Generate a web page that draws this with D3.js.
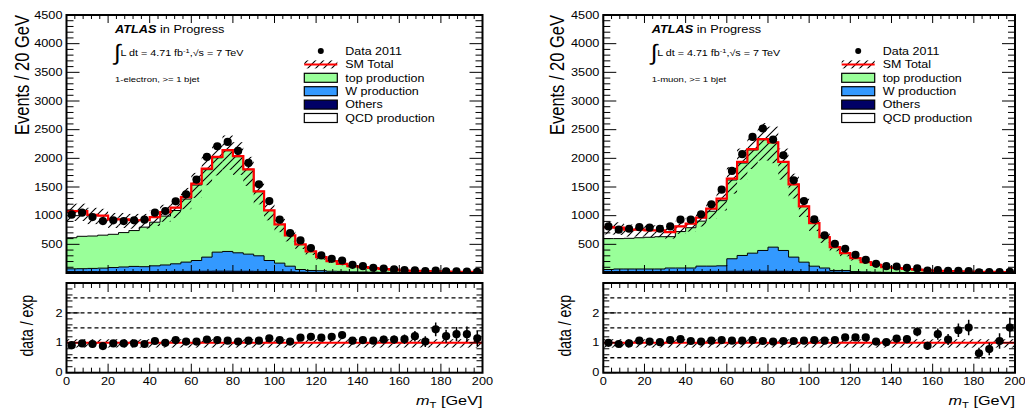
<!DOCTYPE html>
<html><head><meta charset="utf-8">
<script src="https://cdn.jsdelivr.net/npm/d3@7"></script>
<style>
body{margin:0;background:#fff}
svg{display:block}
text{font-family:"Liberation Sans",Arial,Helvetica,sans-serif;fill:#000}
</style>
</head><body>
<svg id="chart" width="1025" height="410"></svg>
<script>
// ---------------- data (bins of 5 GeV, 0..200 GeV) ----------------
const binEdges = d3.range(0, 205, 5);
const xTickLabels = d3.range(0, 201, 20);
const yTickLabels = d3.range(500, 4501, 500);
const ratioTickLabels = [0, 1, 2];
const ratioGuides = [0.5, 1.5, 2, 2.5];

// electron channel
const elData   = [1017,1052,976,906,918,906,918,930,1052,1080,1250,1372,1629,2024,2211,2287,2129,1920,1547,1255,930,696,568,434,306,248,218,143,119,91,78,64,49,46,33,41,30,28,26,21];
const elOthers = [25,25,25,25,25,25,25,25,25,25,28,28,30,30,32,32,30,30,28,25,22,20,15,12,10,8,8,6,5,5,4,4,3,3,3,2,2,2,1,1];
const elW      = [48,50,55,60,70,80,90,85,100,115,132,162,188,247,332,344,322,299,272,193,150,99,46,32,30,22,20,14,13,10,8,6,5,4,3,3,2,2,2,2];
const elTop    = [542,565,565,575,580,600,625,690,761,853,930,1100,1316,1525,1645,1756,1677,1474,1120,871,673,535,435,331,236,176,132,99,84,72,58,48,36,31,26,23,21,18,17,15];
const elQCD    = [465,440,370,340,260,230,180,120,90,70,50,35,25,20,15,10,8,6,5,4,3,2,2,1,1,1,0,0,0,0,0,0,0,0,0,0,0,0,0,0];
const elRatio  = [0.92,0.98,0.96,0.89,0.98,0.98,0.98,0.96,1.06,1.0,1.09,1.04,1.04,1.11,1.09,1.07,1.04,1.07,1.07,1.15,1.09,1.04,1.17,1.2,1.17,1.2,1.26,1.07,1.09,1.07,1.11,1.11,1.12,1.22,1.04,1.45,1.22,1.29,1.29,1.15];

// muon channel
const muData   = [813,755,772,800,790,772,813,930,930,1023,1197,1454,1780,2072,2374,2520,2328,2054,1617,1255,935,656,510,423,318,230,160,119,113,91,79,41,49,36,38,35,13,14,17,21];
const muOthers = [25,25,25,25,25,25,25,25,25,25,28,28,30,30,32,32,30,30,28,25,22,20,15,12,10,8,8,6,5,5,4,4,3,3,3,2,2,1,1,1];
const muW      = [36,45,45,45,45,45,62,62,62,95,92,97,218,276,314,361,421,363,249,164,97,67,29,32,15,12,7,6,5,3,2,1,1,1,0,1,0,1,1,1];
const muTop    = [539,530,535,545,553,563,547,636,703,785,957,1137,1374,1612,1799,1931,1821,1539,1265,970,749,537,405,301,233,168,128,90,77,62,52,41,34,28,24,20,18,16,14,12];
const muQCD    = [200,190,150,140,120,110,80,90,70,60,45,35,25,20,15,10,8,6,5,4,3,2,2,1,1,1,0,0,0,0,0,0,0,0,0,0,0,0,0,0];
const muRatio  = [1.0,0.96,0.98,1.07,1.04,1.02,1.09,1.12,1.06,1.04,1.07,1.09,1.07,1.07,1.09,1.06,1.04,1.06,1.06,1.07,1.09,1.07,1.09,1.18,1.18,1.18,1.04,1.02,1.14,1.12,1.37,0.9,1.29,1.11,1.42,1.51,0.65,0.79,1.06,1.51];

// systematic band (fractional)
const bandUp = 0.12, bandDown = 0.16;

const legendLabels = ["Data 2011","SM Total","top production","W production","Others","QCD production"];
const colors = {top:"#99ff99", w:"#3399ff", others:"#000066", qcd:"#ffffff", total:"#ff0000"};

// ---------------- drawing ----------------
const SX = 1.25; // horizontal stretch of glyphs in the reference
const svg = d3.select("#chart");
const defs = svg.append("defs");
const pat = defs.append("pattern").attr("id","hatch").attr("patternUnits","userSpaceOnUse")
  .attr("width",8).attr("height",8);
pat.append("path").attr("d","M0,8 L8,0 M-1,1 L1,-1 M7,9 L9,7").attr("stroke","#000").attr("stroke-width",1.1);

function txt(g, x, y, s, o={}) {
  const t = g.append("text")
    .attr("transform", `translate(${x},${y}) scale(${SX},1)` + (o.rot ? " rotate(-90)" : ""))
    .attr("font-size", o.size || 10)
    .attr("text-anchor", o.anchor || "start");
  if (o.weight) t.attr("font-weight", o.weight);
  if (o.style) t.attr("font-style", o.style);
  t.text(s);
  return t;
}

function drawPanel(cfg) {
  const g = svg.append("g");
  const n = 40;
  const x = d3.scaleLinear().domain([0,200]).range([cfg.x0, cfg.x1]);
  const y = d3.scaleLinear().domain([0,4500]).range([cfg.mBot, cfg.mTop]);
  const yr = d3.scaleLinear().domain([0,3]).range([cfg.rBot, cfg.rTop]);

  const clipM = "clipM"+cfg.id, clipR = "clipR"+cfg.id;
  defs.append("clipPath").attr("id",clipM).append("rect")
    .attr("x",cfg.x0).attr("y",cfg.mTop).attr("width",cfg.x1-cfg.x0).attr("height",cfg.mBot-cfg.mTop);
  defs.append("clipPath").attr("id",clipR).append("rect")
    .attr("x",cfg.x0).attr("y",cfg.rTop).attr("width",cfg.x1-cfg.x0).attr("height",cfg.rBot-cfg.rTop);

  const c1 = cfg.others;
  const c2 = c1.map((v,i)=>v+cfg.w[i]);
  const c3 = c2.map((v,i)=>v+cfg.top[i]);
  const c4 = c3.map((v,i)=>v+cfg.qcd[i]);
  const pts = vals => vals.map((v,i)=>[binEdges[i], v]).concat([[200, vals[n-1]]]);
  const area = d3.area().x(d=>x(d[0])).y0(y(0)).y1(d=>y(d[1])).curve(d3.curveStepAfter);
  const line = d3.line().x(d=>x(d[0])).y(d=>y(d[1])).curve(d3.curveStepAfter);

  const mg = g.append("g").attr("clip-path",`url(#${clipM})`);
  [[c4,colors.qcd],[c3,colors.top],[c2,colors.w],[c1,colors.others]].forEach(([vals,fill])=>{
    mg.append("path").attr("d",area(pts(vals))).attr("fill",fill).attr("stroke","none");
    mg.append("path").attr("d",line(pts(vals))).attr("fill","none").attr("stroke","#000").attr("stroke-width",1);
  });
  // band
  mg.selectAll(".band").data(c4).enter().append("rect")
    .attr("x",(d,i)=>x(binEdges[i])).attr("width",(d,i)=>x(binEdges[i+1])-x(binEdges[i]))
    .attr("y",d=>y(d*(1+bandUp))).attr("height",d=>y(d*(1-bandDown))-y(d*(1+bandUp)))
    .attr("fill","url(#hatch)");
  // total line
  mg.append("path").attr("d",line(pts(c4))).attr("fill","none").attr("stroke",colors.total).attr("stroke-width",2.2);
  // data
  const cx = i => x((binEdges[i]+binEdges[i+1])/2);
  cfg.data.forEach((d,i)=>{
    const e = Math.sqrt(d);
    mg.append("line").attr("x1",cx(i)).attr("x2",cx(i)).attr("y1",y(d-e)).attr("y2",y(d+e)).attr("stroke","#000").attr("stroke-width",1.5);
    mg.append("circle").attr("cx",cx(i)).attr("cy",y(d)).attr("r",4.1).attr("fill","#000");
  });

  // ratio panel
  const rg = g.append("g").attr("clip-path",`url(#${clipR})`);
  ratioGuides.forEach(v=>{
    rg.append("line").attr("x1",cfg.x0).attr("x2",cfg.x1).attr("y1",yr(v)).attr("y2",yr(v))
      .attr("stroke","#000").attr("stroke-width",1.3).attr("stroke-dasharray","4,3");
  });
  rg.selectAll(".rband").data(c4).enter().append("rect")
    .attr("x",(d,i)=>x(binEdges[i])).attr("width",(d,i)=>x(binEdges[i+1])-x(binEdges[i]))
    .attr("y",yr(1+bandUp)).attr("height",yr(1-bandDown)-yr(1+bandUp))
    .attr("fill","url(#hatch)");
  rg.append("line").attr("x1",cfg.x0).attr("x2",cfg.x1).attr("y1",yr(1)).attr("y2",yr(1))
    .attr("stroke",colors.total).attr("stroke-width",2);
  cfg.ratio.forEach((r,i)=>{
    const e = Math.sqrt(cfg.data[i])/c4[i];
    rg.append("line").attr("x1",cx(i)).attr("x2",cx(i)).attr("y1",yr(r-e)).attr("y2",yr(r+e)).attr("stroke","#000").attr("stroke-width",1.5);
    rg.append("circle").attr("cx",cx(i)).attr("cy",yr(r)).attr("r",4.1).attr("fill","#000");
  });

  // ticks
  const tk = g.append("g").attr("stroke","#000").attr("stroke-width",1);
  function hT(vals, scale, xa, len) { vals.forEach(v=>tk.append("line").attr("x1",xa).attr("x2",xa+len).attr("y1",scale(v)).attr("y2",scale(v))); }
  function vT(vals, ya, len) { vals.forEach(v=>tk.append("line").attr("y1",ya).attr("y2",ya+len).attr("x1",x(v)).attr("x2",x(v))); }
  const yMinor = d3.range(0,4501,100).filter(v=>v%500!==0);
  const yMajor = d3.range(0,4501,500);
  hT(yMajor, y, cfg.x0, 13); hT(yMinor, y, cfg.x0, 7);
  hT(yMajor, y, cfg.x1, -13); hT(yMinor, y, cfg.x1, -7);
  const xMajor = d3.range(0,201,20), xMinor = d3.range(0,201,4).filter(v=>v%20!==0);
  vT(xMajor, cfg.mTop, 8); vT(xMinor, cfg.mTop, 4);
  vT(xMajor, cfg.mBot, -8); vT(xMinor, cfg.mBot, -4);
  const rMajor = [0,1,2,3], rMinor = d3.range(0,3.001,0.2).filter(v=>Math.abs(v-Math.round(v))>1e-6);
  hT(rMajor, yr, cfg.x0, 13); hT(rMinor, yr, cfg.x0, 6);
  hT(rMajor, yr, cfg.x1, -13); hT(rMinor, yr, cfg.x1, -6);
  vT(xMajor, cfg.rTop, 9); vT(xMinor, cfg.rTop, 5);
  vT(xMajor, cfg.rBot, -9); vT(xMinor, cfg.rBot, -5);

  // frames
  g.append("rect").attr("x",cfg.x0).attr("y",cfg.mTop).attr("width",cfg.x1-cfg.x0).attr("height",cfg.mBot-cfg.mTop)
    .attr("fill","none").attr("stroke","#000").attr("stroke-width",2);
  g.append("rect").attr("x",cfg.x0).attr("y",cfg.rTop).attr("width",cfg.x1-cfg.x0).attr("height",cfg.rBot-cfg.rTop)
    .attr("fill","none").attr("stroke","#000").attr("stroke-width",2);

  // tick labels
  yTickLabels.forEach(v=>txt(g, cfg.x0-4, y(v)+3.6, String(v), {size:10.2, anchor:"end"}));
  ratioTickLabels.forEach(v=>txt(g, cfg.x0-4, yr(v)+3.6, String(v), {size:10.2, anchor:"end"}));
  xTickLabels.forEach(v=>txt(g, x(v), cfg.rBot+12, String(v), {size:10.2, anchor:"middle"}));

  // axis titles
  txt(g, cfg.yTitleX, cfg.mTop, "Events / 20 GeV", {size:16.5, anchor:"end", rot:true});
  txt(g, cfg.rTitleX, cfg.rTop+12, "data / exp", {size:14, anchor:"end", rot:true});
  const xt = g.append("text").attr("transform",`translate(${cfg.x1},${cfg.rBot+32}) scale(${SX},1)`)
    .attr("font-size",13).attr("text-anchor","end");
  xt.append("tspan").attr("font-style","italic").text("m");
  xt.append("tspan").attr("font-size",9).attr("dy",3).text("T");
  xt.append("tspan").attr("dy",-3).text(" [GeV]");

  // ATLAS label
  const at = g.append("text").attr("transform",`translate(${cfg.labX},33.3) scale(${SX},1)`).attr("font-size",10.2);
  at.append("tspan").attr("font-weight","bold").attr("font-style","italic").text("ATLAS");
  at.append("tspan").text(" in Progress");
  g.append("text").attr("transform",`translate(${cfg.labX-1},60) scale(1.1,1)`).attr("font-size",22).text("∫");
  const lumi = g.append("text").attr("transform",`translate(${cfg.labX+5.5},56) scale(${SX},1)`).attr("font-size",8.6);
  lumi.append("tspan").text("L dt = 4.71 fb");
  lumi.append("tspan").attr("font-size",6).attr("dy",-3.5).text("-1");
  lumi.append("tspan").attr("dy",3.5).text(",√s = 7 TeV");
  txt(g, cfg.labX, 81.7, cfg.channel, {size:7.6});

  // legend
  const lg = g.append("g");
  const bx0 = cfg.legX, bw = 33, rowY = i => 51 + i*13.4;
  lg.append("circle").attr("cx",bx0+bw/2).attr("cy",rowY(0)).attr("r",3).attr("fill","#000");
  lg.append("rect").attr("x",bx0).attr("y",rowY(1)-4).attr("width",bw).attr("height",8).attr("fill","url(#hatch)");
  lg.append("line").attr("x1",bx0).attr("x2",bx0+bw).attr("y1",rowY(1)).attr("y2",rowY(1)).attr("stroke",colors.total).attr("stroke-width",2);
  [colors.top, colors.w, colors.others, colors.qcd].forEach((c,k)=>{
    lg.append("rect").attr("x",bx0).attr("y",rowY(k+2)-4.5).attr("width",bw).attr("height",9)
      .attr("fill",c).attr("stroke","#000").attr("stroke-width",1.2);
  });
  legendLabels.forEach((s,i)=>txt(lg, bx0+bw+8, rowY(i)+3.7, s, {size:10}));
}

drawPanel({id:"e", x0:66.5, x1:482.5, mTop:15, mBot:273, rTop:283, rBot:372.7,
  yTitleX:28.5, rTitleX:33, labX:115, legX:304.3, channel:"1-electron, >= 1 bjet",
  data:elData, others:elOthers, w:elW, top:elTop, qcd:elQCD, ratio:elRatio});
drawPanel({id:"m", x0:603.3, x1:1015, mTop:15, mBot:273, rTop:283, rBot:372.7,
  yTitleX:563.5, rTitleX:571, labX:651.7, legX:841.7, channel:"1-muon, >= 1 bjet",
  data:muData, others:muOthers, w:muW, top:muTop, qcd:muQCD, ratio:muRatio});
</script>
</body></html>
